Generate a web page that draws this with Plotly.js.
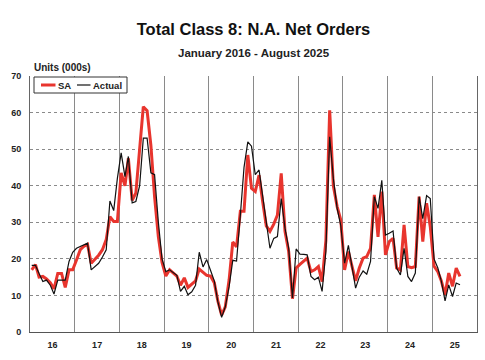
<!DOCTYPE html>
<html><head><meta charset="utf-8">
<script src="https://cdn.plot.ly/plotly-3.0.1.min.js"></script>
<style>html,body{margin:0;padding:0;background:#fff;}#chart{width:485px;height:360px;}</style>
</head><body><div id="chart"></div>
<script>
// Monthly data, Jan 2016 - Aug 2025 (units: 000s)
const startYear = 2016;
const saValues = [
  17, 18.4, 15, 15.2, 14.5, 13.5, 11.8, 16, 16, 12.2, 17, 17,          // 2016
  19.7, 22.5, 23.4, 24, 18.8, 19.8, 21, 22.5, 25.3, 31.5, 30.2, 30.2,   // 2017
  43.5, 40, 47.5, 36, 38, 50, 61.6, 60.5, 51, 37, 26, 19,             // 2018
  15.3, 17, 16.3, 15.3, 12.8, 14.8, 12.2, 13, 14, 17.2, 16.2, 15.5,    // 2019
  15.3, 13.5, 8.5, 4.6, 6.9, 14.2, 24.6, 23.3, 33, 33, 48.4, 39.3,     // 2020
  38.4, 42.9, 36, 29, 27.5, 29.5, 32, 43.4, 27.5, 22, 9.1, 17.5,       // 2021
  18.5, 19.3, 20.2, 16.5, 17, 17.9, 13.8, 25, 60.6, 40, 34.3, 30.6,    // 2022
  17, 22, 18.5, 14, 17.5, 20.2, 20.6, 22.9, 37.5, 26, 38.4, 21.1,      // 2023
  24.7, 25.6, 17.5, 17, 29.3, 17.9, 17.6, 17.9, 37, 24.7, 35.2, 28.8,  // 2024
  18, 16.5, 14, 10.2, 16.1, 12.5, 17.5, 15.2                           // 2025
];
const actualValues = [
  18.2, 18.2, 16, 13.8, 14.2, 12.8, 10.4, 14.2, 14.2, 14.2, 19.3, 21.8, // 2016
  22.9, 23.4, 24, 24.3, 17, 17.9, 18.8, 20.5, 22.5, 35.8, 33.2, 42,     // 2017
  49, 42.5, 48, 35.3, 35.7, 40, 53, 53, 43.5, 43, 30, 20,               // 2018
  16.5, 17, 16.2, 15.5, 11.1, 12.5, 10.2, 11, 12.8, 21.8, 17.8, 19.8,   // 2019
  16.9, 14, 8.3, 4, 6.9, 12.4, 19.6, 19.4, 32, 45, 52, 50.8,            // 2020
  43, 44.3, 37.5, 30.2, 22.9, 25.6, 26.1, 36.5, 28.4, 22.9, 9.3, 22.7,  // 2021
  21.3, 21.2, 21.1, 15.2, 14.3, 15, 11.1, 22, 53.4, 42, 33.8, 29,       // 2022
  18.8, 23.7, 17.8, 12, 15, 16.7, 15.8, 19.3, 37, 33.8, 41.5, 26.5,     // 2023
  27, 27.6, 17.5, 15.6, 22.9, 15.2, 13.8, 16.1, 37, 31, 37.3, 36.5,     // 2024
  20, 17.5, 14, 8.5, 12.9, 9.7, 13.4, 12.9                              // 2025
];
const yTickVals = [0, 10, 20, 30, 40, 50, 60, 70];
const seriesNames = ['SA', 'Actual'];
const seriesColors = ['#e8352e', '#111111'];
const seriesWidths = [3, 1.2];

function monthDates(n) {
  const out = [];
  for (let i = 0; i < n; i++) {
    const y = startYear + Math.floor(i / 12);
    const m = (i % 12) + 1;
    out.push(y + '-' + String(m).padStart(2, '0') + '-15');
  }
  return out;
}
const dates = monthDates(saValues.length);
const FONT = 'Liberation Sans, Arial, sans-serif';

const traces = [
  { x: dates, y: saValues, type: 'scatter', mode: 'lines', name: seriesNames[0],
    line: { color: seriesColors[0], width: seriesWidths[0] } },
  { x: dates, y: actualValues, type: 'scatter', mode: 'lines', name: seriesNames[1],
    line: { color: seriesColors[1], width: seriesWidths[1] } }
];

// plot-area geometry helpers (paper coordinates from pixel offsets)
const M = { l: 30, r: 8, t: 76, b: 28 };
const PW = 485 - M.l - M.r, PH = 360 - M.t - M.b;
const px = v => (v - M.l) / PW;
const py = v => 1 - (v - M.t) / PH;

// compact legend box (drawn as layout decoration)
const legendY = py(85);
const legendShapes = [
  { type: 'rect', xref: 'paper', yref: 'paper', x0: px(34), x1: px(127), y0: py(93), y1: py(77),
    line: { color: '#333', width: 1 }, fillcolor: '#ffffff', layer: 'above' },
  { type: 'line', xref: 'paper', yref: 'paper', x0: px(41), x1: px(55.5), y0: legendY, y1: legendY,
    line: { color: seriesColors[0], width: seriesWidths[0] }, layer: 'above' },
  { type: 'line', xref: 'paper', yref: 'paper', x0: px(77), x1: px(90.5), y0: legendY, y1: legendY,
    line: { color: seriesColors[1], width: seriesWidths[1] }, layer: 'above' }
];
const legendLabels = [
  { text: seriesNames[0], xref: 'paper', yref: 'paper', x: px(56.5), y: legendY, xanchor: 'left', yanchor: 'middle',
    showarrow: false, font: { size: 9.5, weight: 700, color: '#222' }, borderpad: 0 },
  { text: seriesNames[1], xref: 'paper', yref: 'paper', x: px(91.5), y: legendY, xanchor: 'left', yanchor: 'middle',
    showarrow: false, font: { size: 9.5, weight: 700, color: '#222' }, borderpad: 0 }
];

const layout = {
  width: 485, height: 360,
  margin: { l: M.l, r: M.r, t: M.t, b: M.b, pad: 0 },
  paper_bgcolor: '#ffffff', plot_bgcolor: '#ffffff',
  font: { family: FONT, color: '#222' },
  title: { text: 'Total Class 8: N.A. Net Orders', font: { size: 16.5, weight: 700, color: '#111' },
           xref: 'paper', x: 0.5, xanchor: 'center', yref: 'container', y: 1 - 29/360, yanchor: 'middle' },
  xaxis: {
    type: 'date', range: ['2016-01-01', '2026-01-01'],
    tick0: '2016-01-01', dtick: 'M12', tickformat: '%y', ticklabelmode: 'period',
    showgrid: true, gridcolor: '#8a8a8a', gridwidth: 1,
    showline: true, linecolor: '#555', linewidth: 1,
    ticks: '', ticklabelstandoff: 4,
    tickfont: { size: 9, weight: 700, color: '#222' }, zeroline: false
  },
  yaxis: {
    range: [0, 70], tickvals: yTickVals,
    showgrid: true, gridcolor: '#8a8a8a', gridwidth: 1, griddash: 'dot',
    showline: true, mirror: true, linecolor: '#666', linewidth: 1,
    ticks: '', ticklabelstandoff: 6,
    tickfont: { size: 9, weight: 700, color: '#222' }, zeroline: false
  },
  showlegend: false,
  shapes: legendShapes,
  annotations: [
    { text: 'January 2016 - August 2025', xref: 'paper', yref: 'paper', x: 0.5, y: py(52.5),
      xanchor: 'center', yanchor: 'middle', showarrow: false, font: { size: 11.5, weight: 700, color: '#222' } },
    { text: 'Units (000s)', xref: 'paper', yref: 'paper', x: px(32), y: py(67.5),
      xanchor: 'left', yanchor: 'middle', showarrow: false, font: { size: 10, weight: 700, color: '#222' } }
  ].concat(legendLabels)
};

Plotly.newPlot('chart', traces, layout, { displayModeBar: false, staticPlot: true });
</script></body></html>
